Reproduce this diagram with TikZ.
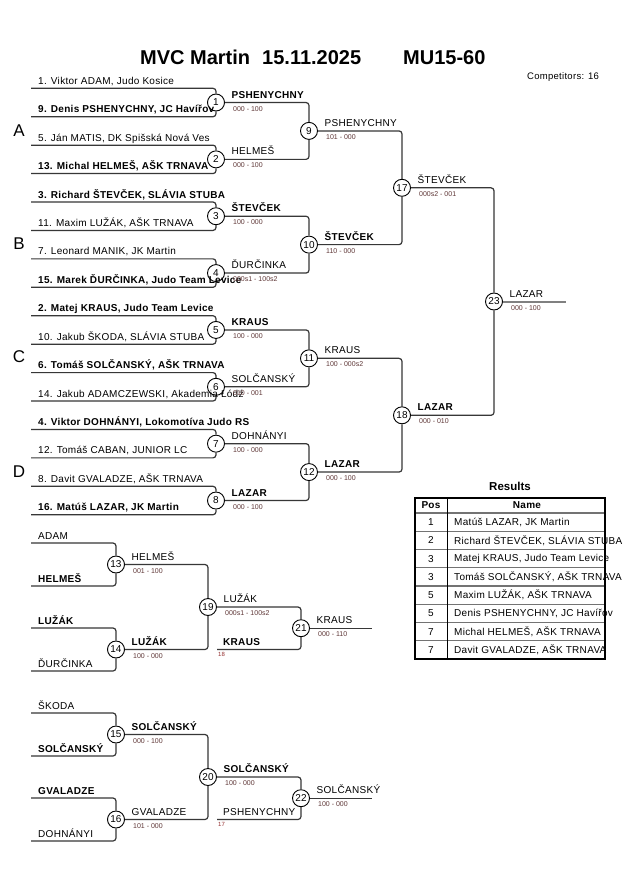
\documentclass[tikz,border=0pt]{standalone}
\usepackage{fontspec}
\setmainfont{Liberation Sans}
\newfontfamily\spc[LetterSpace=3]{Liberation Sans}
\usetikzlibrary{calc}
\definecolor{ln}{RGB}{55,55,55}
\definecolor{sc}{RGB}{95,55,55}
\definecolor{rf}{RGB}{150,50,50}
\tikzset{
  bk/.style={draw=ln, line width=1.2pt, rounded corners=3pt},
  fin/.style={draw=black!50, line width=2pt},
  mc/.style={circle, draw=black, line width=0.9pt, fill=white, minimum size=17pt, inner sep=0pt, font=\fontsize{10}{10}\selectfont},
  ent/.style={anchor=base west, inner sep=0pt, font=\spc\fontsize{10}{12}\selectfont},
  win/.style={anchor=base west, inner sep=0pt, font=\spc\fontsize{10}{12}\selectfont},
  score/.style={anchor=base west, inner sep=0pt, text=sc, font=\fontsize{7}{8}\selectfont},
  refn/.style={anchor=base west, inner sep=0pt, text=rf, font=\fontsize{6}{7}\selectfont},
  pool/.style={inner sep=0pt, font=\fontsize{17}{17}\selectfont},
  ttl/.style={anchor=base west, inner sep=0pt, font=\fontsize{20}{22}\selectfont\bfseries},
  cell/.style={inner sep=0pt, font=\spc\fontsize{10}{12}\selectfont},
}
\begin{document}
\begin{tikzpicture}[x=1pt,y=-1pt]
\useasboundingbox[fill=white] (0,0) rectangle (630,891);

% title
\node[ttl] (t1) at (140,65) {MVC Martin};
\node[ttl] (t2) at (262,65) {15.11.2025};
\node[ttl] (t3) at (403,65) {MU15-60};
\node[anchor=base west, inner sep=0pt, font=\spc\fontsize{9.5}{11}\selectfont] (comp) at (527,79) {Competitors: 16};

% pool letters
\node[pool] (pA) at (19,131) {A};
\node[pool] (pB) at (19,244) {B};
\node[pool] (pC) at (19,357) {C};
\node[pool] (pD) at (19,472) {D};

% main bracket match circles
\foreach \j in {1,...,8} \node[mc] (m\j) at (216,{102.5+56.86*(\j-1)}) {\j};
\foreach \j/\k in {9/0,10/1,11/2,12/3} \node[mc] (m\j) at (309,{130.9+113.72*\k}) {\j};
\node[mc] (m17) at (402,187.8) {17};
\node[mc] (m18) at (402,415.3) {18};
\node[mc] (m23) at (494,301.5) {23};

% repechage circles
\node[mc] (m13) at (116,564.5) {13};
\node[mc] (m14) at (116,649.5) {14};
\node[mc] (m19) at (208,607) {19};
\node[mc] (m21) at (301,628.2) {21};
\node[mc] (m15) at (116,734.5) {15};
\node[mc] (m16) at (116,819.5) {16};
\node[mc] (m20) at (208,777) {20};
\node[mc] (m22) at (301,798.2) {22};

% entry coordinates
\foreach \i in {0,...,15} \coordinate (e\i) at (31,{88.3+28.43*\i});
\foreach \i/\y in {1/543,2/586,3/628,4/671,5/713,6/756,7/798,8/841} \coordinate (r\i) at (31,\y);
\coordinate (k18) at (217,649.5);
\coordinate (k17) at (217,819.5);
\coordinate (w23) at (566,301.5);
\coordinate (w21) at (372,628.2);
\coordinate (w22) at (372,798.2);

% connectors: first round
\foreach \i in {0,...,15} {
  \pgfmathtruncatemacro\j{floor(\i/2)+1}
  \draw[bk] (e\i) -| (m\j);
}
\foreach \a/\b in {1/9,2/9,3/10,4/10,5/11,6/11,7/12,8/12,9/17,10/17,11/18,12/18,17/23,18/23}
  \draw[bk] (m\a) -| (m\b);
\draw[fin] (m23) -- (w23);

% repechage connectors
\foreach \a/\b in {1/13,2/13,3/14,4/14,5/15,6/15,7/16,8/16}
  \draw[bk] (r\a) -| (m\b);
\foreach \a/\b in {13/19,14/19,19/21,15/20,16/20,20/22}
  \draw[bk] (m\a) -| (m\b);
\draw[bk] (k18) -| (m21);
\draw[bk] (k17) -| (m22);
\draw[bk] (m21) -- (w21);
\draw[bk] (m22) -- (w22);

% entry names
\foreach \i/\f/\t in {
  0/\mdseries/{1. Viktor ADAM, Judo Kosice},
  1/\bfseries/{9. Denis PSHENYCHNY, JC Havířov},
  2/\mdseries/{5. Ján MATIS, DK Spišská Nová Ves},
  3/\bfseries/{13. Michal HELMEŠ, AŠK TRNAVA},
  4/\bfseries/{3. Richard ŠTEVČEK, SLÁVIA STUBA},
  5/\mdseries/{11. Maxim LUŽÁK, AŠK TRNAVA},
  6/\mdseries/{7. Leonard MANIK, JK Martin},
  7/\bfseries/{15. Marek ĎURČINKA, Judo Team Levice},
  8/\bfseries/{2. Matej KRAUS, Judo Team Levice},
  9/\mdseries/{10. Jakub ŠKODA, SLÁVIA STUBA},
  10/\bfseries/{6. Tomáš SOLČANSKÝ, AŠK TRNAVA},
  11/\mdseries/{14. Jakub ADAMCZEWSKI, Akademia Łódź},
  12/\bfseries/{4. Viktor DOHNÁNYI, Lokomotíva Judo RS},
  13/\mdseries/{12. Tomáš CABAN, JUNIOR LC},
  14/\mdseries/{8. Davit GVALADZE, AŠK TRNAVA},
  15/\bfseries/{16. Matúš LAZAR, JK Martin}}
  \node[ent] (t\i) at ([xshift=7pt,yshift=4pt]e\i) {\f\t};

\foreach \i/\f/\t in {
  1/\mdseries/ADAM, 2/\bfseries/HELMEŠ, 3/\bfseries/LUŽÁK, 4/\mdseries/ĎURČINKA,
  5/\mdseries/ŠKODA, 6/\bfseries/SOLČANSKÝ, 7/\bfseries/GVALADZE, 8/\mdseries/DOHNÁNYI}
  \node[ent] (rt\i) at ([xshift=7pt,yshift=4pt]r\i) {\f\t};

% winner labels and scores
\foreach \c/\f/\n/\s in {
  1/\bfseries/PSHENYCHNY/000 - 100,
  2/\mdseries/HELMEŠ/000 - 100,
  3/\bfseries/ŠTEVČEK/100 - 000,
  4/\mdseries/ĎURČINKA/000s1 - 100s2,
  5/\bfseries/KRAUS/100 - 000,
  6/\mdseries/SOLČANSKÝ/010 - 001,
  7/\mdseries/DOHNÁNYI/100 - 000,
  8/\bfseries/LAZAR/000 - 100,
  9/\mdseries/PSHENYCHNY/101 - 000,
  10/\bfseries/ŠTEVČEK/110 - 000,
  11/\mdseries/KRAUS/100 - 000s2,
  12/\bfseries/LAZAR/000 - 100,
  17/\mdseries/ŠTEVČEK/000s2 - 001,
  18/\bfseries/LAZAR/000 - 010,
  23/\mdseries/LAZAR/000 - 100,
  13/\mdseries/HELMEŠ/001 - 100,
  14/\bfseries/LUŽÁK/100 - 000,
  19/\mdseries/LUŽÁK/000s1 - 100s2,
  21/\mdseries/KRAUS/000 - 110,
  15/\bfseries/SOLČANSKÝ/000 - 100,
  16/\mdseries/GVALADZE/101 - 000,
  20/\bfseries/SOLČANSKÝ/100 - 000,
  22/\mdseries/SOLČANSKÝ/100 - 000}
{
  \node[win] (wl\c) at ([xshift=15.5pt,yshift=4.5pt]m\c.center) {\f\n};
  \node[score] (ws\c) at ([xshift=17pt,yshift=-8.5pt]m\c.center) {\s};
}
\node[win] (kl18) at ([xshift=6pt,yshift=4.5pt]k18) {\bfseries KRAUS};
\node[refn] (kr18) at ([xshift=1pt,yshift=-6.5pt]k18) {18};
\node[win] (kl17) at ([xshift=6pt,yshift=4.5pt]k17) {PSHENYCHNY};
\node[refn] (kr17) at ([xshift=1pt,yshift=-6.5pt]k17) {17};

% results table
\node[inner sep=0pt, font=\fontsize{11.5}{13}\selectfont\bfseries] (res) at (510,486) {Results};
\foreach \k in {1,...,8} \draw[black!55, line width=1.1pt] (415,{513+18.25*(\k-1)}) -- (605,{513+18.25*(\k-1)});
\draw[black, line width=1pt] (447,498) -- (447,659);
\draw[black, line width=1.6pt] (415,498) rectangle (605,659);
\node[cell, font=\spc\fontsize{10}{12}\selectfont\bfseries] (hp) at (431,505.5) {Pos};
\node[cell, font=\spc\fontsize{10}{12}\selectfont\bfseries] (hn) at (527,505.5) {Name};
\foreach \k/\p/\t in {
  1/1/{Matúš LAZAR, JK Martin},
  2/2/{Richard ŠTEVČEK, SLÁVIA STUBA},
  3/3/{Matej KRAUS, Judo Team Levice},
  4/3/{Tomáš SOLČANSKÝ, AŠK TRNAVA},
  5/5/{Maxim LUŽÁK, AŠK TRNAVA},
  6/5/{Denis PSHENYCHNY, JC Havířov},
  7/7/{Michal HELMEŠ, AŠK TRNAVA},
  8/7/{Davit GVALADZE, AŠK TRNAVA}}
{
  \node[cell] (rp\k) at (431,{513+18.25*(\k-0.5)}) {\p};
  \node[cell, anchor=west] (rn\k) at (454,{513+18.25*(\k-0.5)}) {\t};
}
\end{tikzpicture}
\end{document}
